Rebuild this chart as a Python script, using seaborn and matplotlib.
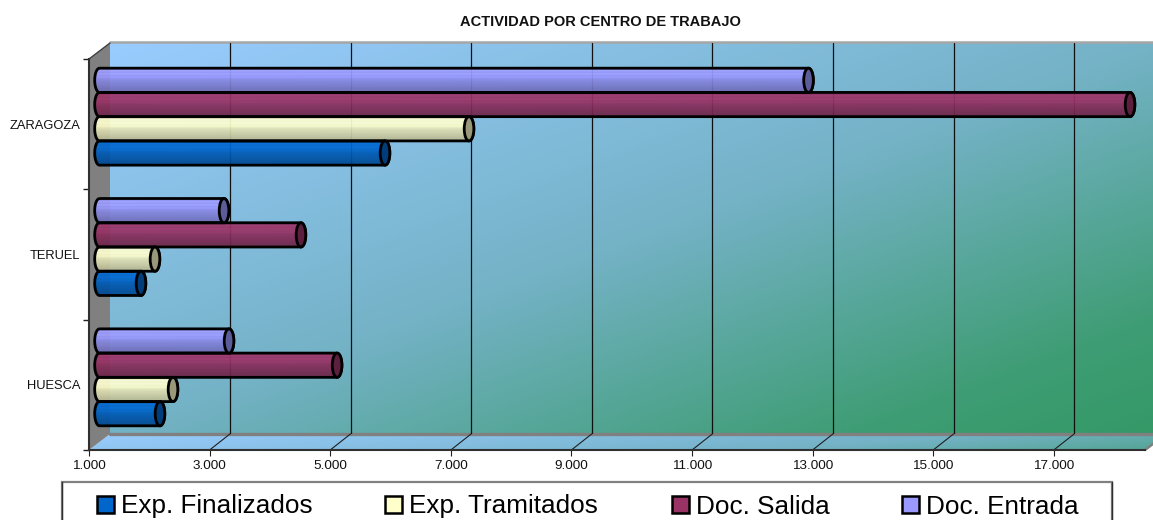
import matplotlib
matplotlib.use('Agg')
import matplotlib.pyplot as plt
from matplotlib.colors import LinearSegmentedColormap, to_rgb
from matplotlib.patches import Ellipse, PathPatch, Polygon, Rectangle
from matplotlib.path import Path
import numpy as np
import pandas as pd
import seaborn as sns

centros = ['ZARAGOZA', 'TERUEL', 'HUESCA']
exp_finalizados = [5735, 1688, 2003]
exp_tramitados = [7128, 1920, 2219]
doc_salida = [18090, 4341, 4940]
doc_entrada = [12758, 3065, 3148]

series = ['Exp. Finalizados', 'Exp. Tramitados', 'Doc. Salida', 'Doc. Entrada']
colores = ['#0066CC', '#FFFFCC', '#993366', '#9999FF']
x_ticks = [1000, 3000, 5000, 7000, 9000, 11000, 13000, 15000, 17000]
x_labels = ['1.000', '3.000', '5.000', '7.000', '9.000', '11.000', '13.000', '15.000', '17.000']

W, H = 1153, 520
PX_PER_UNIT = 120.6 / 2000
FRONT_L, FRONT_R, FRONT_T, FRONT_B = 89, 1145, 59, 450
DEPTH_X, DEPTH_Y = 21, 16

df = pd.DataFrame({
    'centro': centros * 4,
    'valor': exp_finalizados + exp_tramitados + doc_salida + doc_entrada,
    'serie': [s for s in series for _ in centros],
})

sns.set_theme(style='white')
plt.rcParams['font.family'] = ['Liberation Sans', 'DejaVu Sans']

fig = plt.figure(figsize=(W / 100, H / 100), dpi=100, facecolor='white')


def axes_px(left, right, top, bottom, **kwargs):
    # axes placed from pixel edges, y counted from the top of the image
    return fig.add_axes([left / W, 1 - bottom / H, (right - left) / W, (bottom - top) / H], **kwargs)


def val_limits(left, right, origin):
    # value range of an axes so that 1000 falls on the pixel origin
    return 1000 + (left - origin) / PX_PER_UNIT, 1000 + (right - origin) / PX_PER_UNIT


# Walls and floor, in image pixels
ax_bg = axes_px(0, W, 0, H, zorder=0)
ax_bg.set_xlim(0, W)
ax_bg.set_ylim(H, 0)
ax_bg.axis('off')
cmap = LinearSegmentedColormap.from_list(
    'pared', [(0, '#99CCFF'), (0.5, '#74B2C6'), (0.85, '#3F9D75'), (1, '#339966')])

back_l, back_r = FRONT_L + DEPTH_X, FRONT_R + DEPTH_X
back_t, back_b = FRONT_T - DEPTH_Y, FRONT_B - DEPTH_Y
u, v = np.meshgrid(np.linspace(0, 1, 300), np.linspace(0, 1, 150))
ax_bg.imshow((u + v) / 2, cmap=cmap, vmin=0, vmax=1, aspect='auto',
             extent=(back_l, back_r, back_b, back_t))
floor = Polygon([(FRONT_L, FRONT_B), (back_l, back_b), (back_r, back_b), (FRONT_R, FRONT_B)],
                closed=True, facecolor='none', edgecolor='none')
ax_bg.add_patch(floor)
floor_img = ax_bg.imshow(u * 0.6 + v * 0.12, cmap=cmap, vmin=0, vmax=1, aspect='auto',
                         extent=(FRONT_L, back_r, FRONT_B, back_b))
floor_img.set_clip_path(floor)
ax_bg.add_patch(Polygon([(FRONT_L, FRONT_T), (back_l, back_t), (back_l, back_b), (FRONT_L, FRONT_B)],
                        closed=True, facecolor='#808080', edgecolor='none'))
ax_bg.plot([back_l, back_r], [back_t - 1, back_t - 1], color='#A6A6A6', lw=1.8)
ax_bg.plot([back_l, back_r], [back_b, back_b], color='#808080', lw=2.4)
ax_bg.plot([FRONT_R, back_r], [FRONT_B, back_b], color='#808080', lw=1.8)
ax_bg.plot([FRONT_L, back_l], [FRONT_T, back_t], color='#404040', lw=1)
for tick in x_ticks[1:]:
    px = FRONT_L + (tick - 1000) * PX_PER_UNIT
    ax_bg.plot([px, px + DEPTH_X - 0.7], [FRONT_B, back_b], color='#202020', lw=0.8)
ax_bg.add_patch(Rectangle((61.5, 481.5), 1050, 60, facecolor='white', edgecolor='#808080', lw=1.6))
ax_bg.plot([1111.5, 1111.5], [481.5, H], color='#303030', lw=1)
ax_bg.plot([61.5, 61.5], [481.5, H], color='#303030', lw=1)
ax_bg.set_xlim(0, W)
ax_bg.set_ylim(H, 0)

# Back wall grid
ax_wall = axes_px(back_l - 0.7, back_r, back_t, back_b, zorder=1)
ax_wall.patch.set_visible(False)
ax_wall.set_xlim(*val_limits(back_l - 0.7, back_r, back_l - 0.7))
ax_wall.set_xticks(x_ticks[1:])
ax_wall.set_yticks([])
ax_wall.tick_params(labelbottom=False, length=0)
ax_wall.grid(axis='x', color='#101010', lw=0.9)
sns.despine(ax=ax_wall, left=True, bottom=True)

# Front plane: axis lines, ticks, labels
ax_front = axes_px(FRONT_L, FRONT_R, FRONT_T, FRONT_B, zorder=2)
ax_front.patch.set_visible(False)
ax_front.set_xlim(*val_limits(FRONT_L, FRONT_R, FRONT_L))
ax_front.set_ylim(2.5, -0.5)
ax_front.set_xticks(x_ticks)
ax_front.set_xticklabels(x_labels, fontsize=9.7, color='#111111')
ax_front.set_yticks([-0.5, 0.5, 1.5, 2.5])
ax_front.set_yticklabels([])
ax_front.set_yticks(range(len(centros)), centros, minor=True, fontsize=9.3, color='#111111')
ax_front.tick_params(axis='x', which='major', bottom=True, length=4, width=0.8, color='#202020', pad=3.5)
ax_front.tick_params(axis='y', which='major', left=True, length=4.5, width=1, color='#202020')
ax_front.tick_params(axis='y', which='minor', left=False, length=0, pad=6)
sns.despine(ax=ax_front)
for side in ['left', 'bottom']:
    ax_front.spines[side].set_linewidth(1.5)
    ax_front.spines[side].set_color('#303030')

ax_front.set_title('ACTIVIDAD POR CENTRO DE TRABAJO', fontsize=10.5, fontweight='bold', color='#111111',
                   x=(600.5 - FRONT_L) / (FRONT_R - FRONT_L), y=1 + (FRONT_T - 29) / (FRONT_B - FRONT_T),
                   va='bottom', pad=0)

# Bars sit half way into the depth
bars_l = FRONT_L
bars_r = W
bars_origin = FRONT_L + DEPTH_X / 2
ax_bars = axes_px(bars_l, bars_r, FRONT_T - DEPTH_Y / 2 + 0.5, FRONT_B - DEPTH_Y / 2 + 0.5, zorder=3)
ax_bars.patch.set_visible(False)
sns.barplot(data=df, x='valor', y='centro', hue='serie', order=centros, hue_order=series[::-1],
            palette=dict(zip(series, colores)), width=0.744, gap=0, saturation=1, errorbar=None,
            legend=False, ax=ax_bars)
xlim_bars = val_limits(bars_l, bars_r, bars_origin)
ax_bars.set_xlim(*xlim_bars)
ax_bars.set_ylim(2.5, -0.5)
ax_bars.axis('off')

RX = 4.8 / PX_PER_UNIT
pos = np.array([0, 0.09, 0.14, 0.2, 0.27, 0.33, 0.4, 0.5, 0.62, 0.75, 0.9, 1])
fac = np.array([1.02, 0.94, 1.1, 0.96, 1.08, 0.97, 1.0, 0.9, 0.85, 0.8, 0.74, 0.72])
prof = np.interp(np.linspace(0, 1, 48), pos, fac)

for bar in list(ax_bars.patches):
    valor = bar.get_width()
    y0, h = bar.get_y(), bar.get_height()
    if valor <= 0 or h <= 0:
        continue
    base = np.array(to_rgb(bar.get_facecolor()))
    yc = y0 + h / 2
    th = np.linspace(np.pi / 2, 3 * np.pi / 2, 30)
    left = np.c_[1000 + RX * np.cos(th), yc - h / 2 * np.sin(th)]
    right = np.c_[valor - RX * np.cos(th), yc + h / 2 * np.sin(th)]
    outline = Path(np.r_[left, right, left[:1]])
    shape = PathPatch(outline, facecolor='none', edgecolor='black', lw=2, zorder=4)
    ax_bars.add_patch(shape)
    bar.set_clip_path(shape)
    bar.set_alpha(0.0)
    rgba = np.ones((48, 1, 4))
    rgba[..., :3] = np.clip(prof[:, None, None] * base[None, None, :], 0, 1)
    rgba[..., 3] = 0.93
    img = ax_bars.imshow(rgba, aspect='auto', extent=(1000 - RX, valor + RX, y0 + h, y0), zorder=3)
    img.set_clip_path(shape)
    ax_bars.add_patch(Ellipse((valor, yc), 2 * RX, h, facecolor=base * 0.6, edgecolor='black',
                              lw=2, zorder=5))
ax_bars.set_xlim(*xlim_bars)
ax_bars.set_ylim(2.5, -0.5)

# Excel keeps its own spacing between entries, so one legend per series
legend_x = [97, 385, 672, 902]
for serie, color, px in zip(series, colores, legend_x):
    handle = Rectangle((0, 0), 1, 1, facecolor=color, edgecolor='black', lw=1.8, label=serie)
    fig.legend(handles=[handle], loc='center left', bbox_to_anchor=(px / W, 1 - 506.5 / H),
               frameon=False, fontsize=18.8, borderpad=0, borderaxespad=0, handlelength=0.66,
               handleheight=0.66, handletextpad=0.27, labelcolor='black')

plt.savefig('out.png', dpi=100)
